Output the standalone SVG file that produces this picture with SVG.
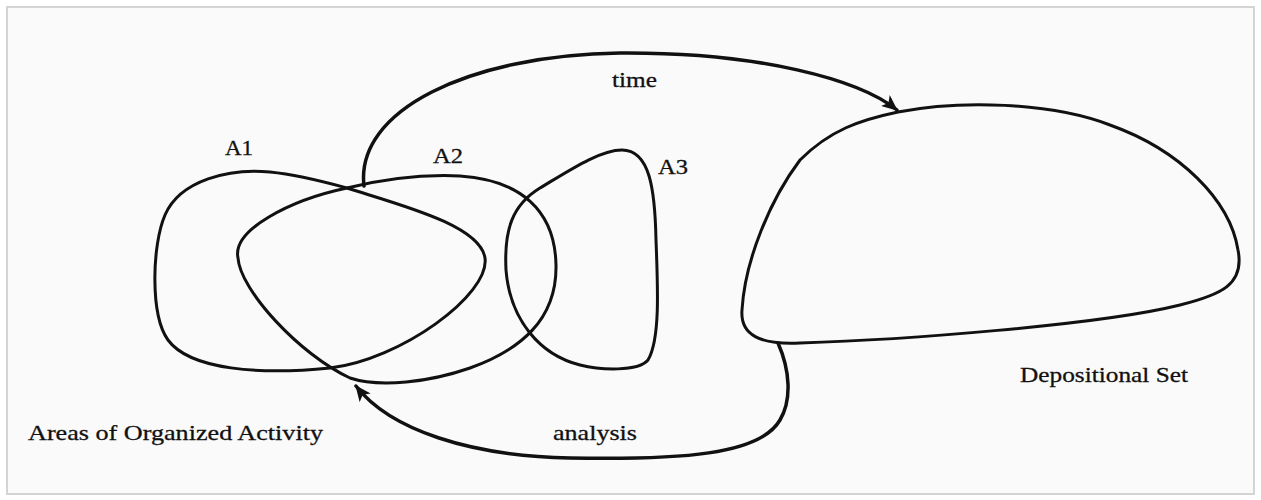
<svg xmlns="http://www.w3.org/2000/svg" width="1261" height="500" viewBox="0 0 1261 500">
<style>
.bg{fill:#fafafa;stroke:#d4d4d4;stroke-width:2}
.shape{fill:none;stroke:#111;stroke-width:3;stroke-linejoin:round}
.conn{fill:none;stroke:#111;stroke-width:3.5;stroke-linecap:round}
text{font-family:"Liberation Serif","Times New Roman",serif;font-size:22px;fill:#111;stroke:#111;stroke-width:0.3}
</style>
<defs>
<marker id="ah" viewBox="0 0 16 14" markerWidth="16" markerHeight="14" refX="15" refY="7" orient="auto" markerUnits="userSpaceOnUse">
<path d="M0,0 L16,7 L0,14 L4,7 Z" fill="#111"/>
</marker>
</defs>
<rect width="1261" height="500" fill="#ffffff"/>
<rect class="bg" x="7" y="7" width="1247" height="487"/>
<g id="A1">
<path class="shape" d="M 347,188 C 400,205 480,225 485,258 C 490,295 400,360 330,368 C 260,375 190,370 168,340 C 150,315 152,245 165,215 C 180,180 230,168 270,172 C 300,175 325,182 347,188 Z"/>
<text x="225" y="155" textLength="28" lengthAdjust="spacingAndGlyphs">A1</text>
</g>
<g id="A2">
<path class="shape" d="M 238,258 C 232,230 290,200 347,188 C 380,180 420,174 460,176 C 520,180 555,210 556,265 C 557,320 520,350 470,368 C 430,382 380,388 350,378 C 300,355 240,290 238,258 Z"/>
<text x="433" y="163" textLength="30" lengthAdjust="spacingAndGlyphs">A2</text>
</g>
<g id="A3">
<path class="shape" d="M 622,150 C 650,150 655,190 656,240 C 658,290 660,340 648,360 C 638,372 600,370 580,365 C 540,355 510,320 506,270 C 504,230 512,205 540,188 C 570,170 600,150 622,150 Z"/>
<text x="658" y="174" textLength="30" lengthAdjust="spacingAndGlyphs">A3</text>
</g>
<g id="depositional-set">
<path class="shape" d="M 898,112 C 960,100 1050,102 1110,125 C 1180,150 1230,200 1238,250 C 1245,285 1220,295 1180,305 C 1100,325 900,340 800,343 C 760,345 740,335 742,310 C 745,260 770,200 800,160 C 830,130 860,120 898,112 Z"/>
<text x="1020" y="382" textLength="168" lengthAdjust="spacingAndGlyphs">Depositional Set</text>
</g>
<g id="areas-label">
<text x="28" y="440" font-size="24" textLength="295" lengthAdjust="spacingAndGlyphs">Areas of Organized Activity</text>
</g>
<g id="connectors">
<path class="conn" marker-end="url(#ah)" d="M 364,186 C 355,110 470,55 620,53 C 760,52 860,80 897,110"/>
<text x="612" y="87" font-size="23" textLength="45" lengthAdjust="spacingAndGlyphs">time</text>
<path class="conn" marker-end="url(#ah)" d="M 778,343 C 790,370 792,400 780,420 C 760,455 680,460 570,458 C 470,456 390,430 356,386"/>
<text x="553" y="440" textLength="84" lengthAdjust="spacingAndGlyphs">analysis</text>
</g>
</svg>
